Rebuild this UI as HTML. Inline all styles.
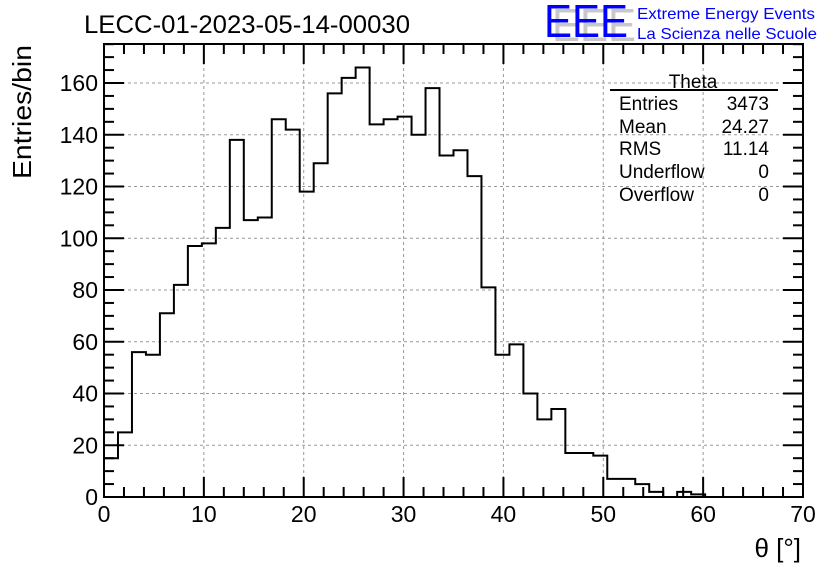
<!DOCTYPE html>
<html><head><meta charset="utf-8"><style>
html,body{margin:0;padding:0;background:#fff;}
svg{display:block;font-family:"Liberation Sans",sans-serif;}
</style></head><body>
<svg id="chart" width="836" height="572" viewBox="0 0 836 572" xmlns="http://www.w3.org/2000/svg">
<rect x="0" y="0" width="836" height="572" fill="#fff"/>
<g id="grid"></g>
<g id="hist"></g>
<g id="axes"></g>
<text x="84" y="33" font-size="25" fill="#000" textLength="326" lengthAdjust="spacingAndGlyphs">LECC-01-2023-05-14-00030</text>
<g>
<text x="552" y="41" font-size="46" fill="#c8c8c8" textLength="84" lengthAdjust="spacingAndGlyphs">EEE</text>
<text x="544" y="37" font-size="46" fill="#0000ff" textLength="84" lengthAdjust="spacingAndGlyphs">EEE</text>
<text x="637" y="19" font-size="16" fill="#0000ff" textLength="178" lengthAdjust="spacingAndGlyphs">Extreme Energy Events</text>
<text x="637" y="39" font-size="16" fill="#0000ff" textLength="180" lengthAdjust="spacingAndGlyphs">La Scienza nelle Scuole</text>
</g>
<g font-size="19" fill="#000">
<text x="693" y="88" text-anchor="middle">Theta</text>
<line x1="610" y1="90" x2="778" y2="90" stroke="#000" stroke-width="2"/>
<text x="619" y="110">Entries</text><text x="769" y="110" text-anchor="end">3473</text>
<text x="619" y="133">Mean</text><text x="769" y="133" text-anchor="end">24.27</text>
<text x="619" y="155">RMS</text><text x="769" y="155" text-anchor="end">11.14</text>
<text x="619" y="178">Underflow</text><text x="769" y="178" text-anchor="end">0</text>
<text x="619" y="201">Overflow</text><text x="769" y="201" text-anchor="end">0</text>
</g>
<text transform="translate(31,112) rotate(-90)" text-anchor="middle" font-size="26" textLength="134" lengthAdjust="spacingAndGlyphs">Entries/bin</text>
<text x="801" y="557" text-anchor="end" font-size="26">θ [°]</text>
</svg>
<script>
const binCounts = [15,25,56,55,71,82,97,98,104,138,107,108,146,142,118,129,156,162,166,144,146,147,140,158,132,134,124,81,55,59,40,30,34,17,17,16,7,7,5,2,0,2,1,0,0,0,0,0,0,0];
const xTicks = [0,10,20,30,40,50,60,70];
const yTicks = [0,20,40,60,80,100,120,140,160];
const xMin = 0, xMax = 70, yMax = 175;
const L = 104, R = 803, T = 44, B = 497;
const NS = 'http://www.w3.org/2000/svg';
const sx = v => L + (v - xMin) / (xMax - xMin) * (R - L);
const sy = v => B - v * 2.5875;
function mk(tag, attrs, parent){const e=document.createElementNS(NS,tag);for(const k in attrs)e.setAttribute(k,attrs[k]);parent.appendChild(e);return e;}
const grid=document.getElementById('grid'), axes=document.getElementById('axes'), hist=document.getElementById('hist');
xTicks.forEach(t=>{ if(t>xMin&&t<xMax){const l=mk('line',{x1:sx(t),x2:sx(t),y1:T,y2:B,stroke:'#999','stroke-dasharray':'3,3','stroke-width':1},grid);

}});
yTicks.forEach(t=>{ if(t>0){const l=mk('line',{x1:L,x2:R,y1:sy(t),y2:sy(t),stroke:'#999','stroke-dasharray':'3,3','stroke-width':1},grid);

}});
const bw = (xMax - xMin) / binCounts.length;
let d = 'M'+sx(0)+','+sy(0);
binCounts.forEach((c,i)=>{ d += ' L'+sx(i*bw)+','+sy(c)+' L'+sx((i+1)*bw)+','+sy(c); });
d += ' L'+sx(xMax)+','+sy(0);
const p=mk('path',{d:d,fill:'none',stroke:'#000','stroke-width':2},hist);


const fr=mk('rect',{x:L,y:T,width:R-L,height:B-T,fill:'none',stroke:'#000','stroke-width':2},axes);


for(let v=xMin; v<=xMax; v+=2){const major=v%10===0;const len=major?20:10;
 mk('line',{x1:sx(v),x2:sx(v),y1:B,y2:B-len,stroke:'#000','stroke-width':2},axes);
 mk('line',{x1:sx(v),x2:sx(v),y1:T,y2:T+len,stroke:'#000','stroke-width':2},axes);}
xTicks.forEach(t=>{const tx=mk('text',{x:sx(t),y:522,'text-anchor':'middle','font-size':23},axes);tx.textContent=t;

});
for(let v=0; v<=yMax; v+=5){const major=v%20===0;const len=major?20:10;
 mk('line',{x1:L,x2:L+len,y1:sy(v),y2:sy(v),stroke:'#000','stroke-width':2},axes);
 mk('line',{x1:R,x2:R-len,y1:sy(v),y2:sy(v),stroke:'#000','stroke-width':2},axes);}
yTicks.forEach(t=>{const tx=mk('text',{x:98,y:sy(t)+8,'text-anchor':'end','font-size':23},axes);tx.textContent=t;

});
</script>
</body></html>
